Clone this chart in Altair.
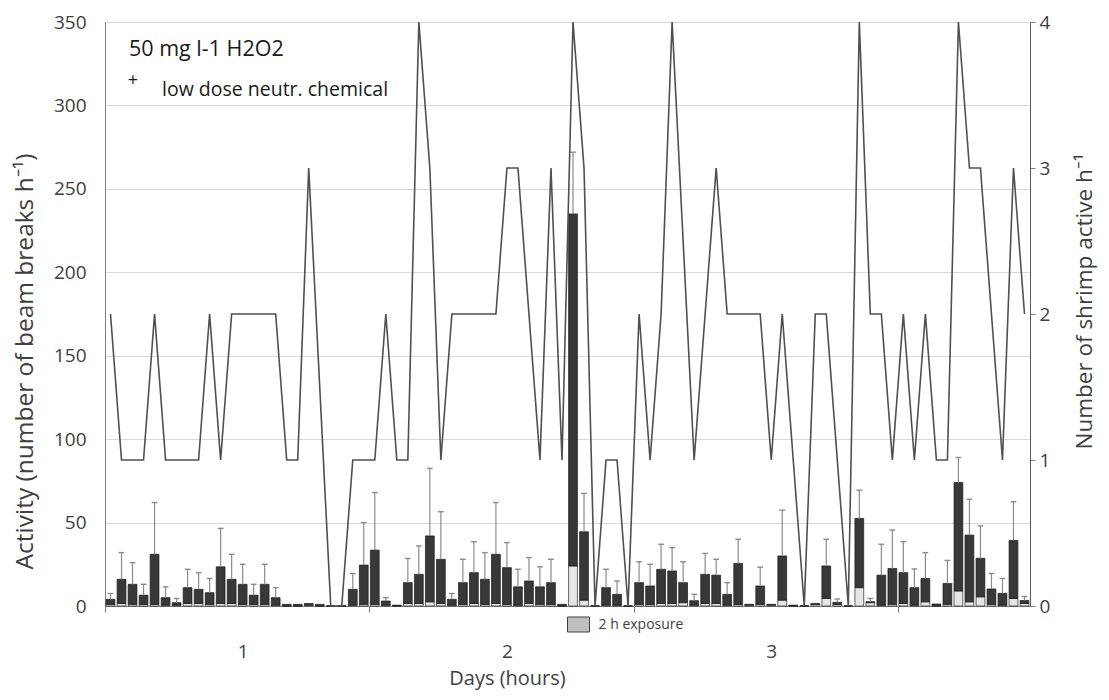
import altair as alt
import pandas as pd

# ---- data ----
hours = list(range(84))

activity = [4, 16, 13, 6.5, 31, 5, 2, 11, 10, 8,
            23.5, 16, 13, 6.5, 13, 5, 1, 1, 1.5, 1,
            0, 0, 10, 24.5, 33.5, 3, 0.5, 14, 19, 42,
            28, 4, 14, 20, 16, 31, 23, 11.5, 15, 11.5,
            14, 1, 235, 44.5, 0, 11, 7, 0, 14, 12,
            22, 21, 14, 3.2, 19, 18.5, 7, 25.5, 1, 12,
            1, 30, 0.5, 0, 1.5, 24, 2.2, 0, 52.5, 2.6,
            18.5, 22.5, 20, 11, 16.5, 1.2, 13.5, 74, 42.5, 28.6,
            10.2, 7.6, 39.3, 3.3]

light_part = [1, 1.5, 1, 1, 1, 0.5, 0.5, 1.5, 1.5, 1,
              1.5, 1.5, 1, 1, 1, 0.5, 0, 0, 0.5, 0,
              0, 0, 0.5, 1, 1, 0.5, 0, 1.5, 1.5, 2.5,
              1.5, 0.5, 1, 1.5, 1, 1.5, 1, 0.5, 1.5, 1,
              1, 0, 24, 3.5, 0, 0.5, 0.5, 0, 1, 1,
              1.5, 1.5, 2, 0.5, 1.5, 1.5, 0.5, 1, 0.5, 1,
              0.5, 3.5, 0, 0, 1, 4.5, 1, 0, 11, 2,
              0.5, 1, 1.5, 0.5, 2.5, 0, 1, 9, 2.5, 5.5,
              1, 0.5, 4.5, 1.5]

error_top = [7.5, 32, 26, 13, 62, 11.5, 4.5, 22, 20, 16.5,
             46.5, 31, 25, 13, 25, 11, None, None, None, None,
             None, None, 19.5, 50, 68, 5, None, 28.5, 36, 82.5,
             56.5, 7.5, 28, 38.5, 32, 62, 38, 22, 29, 23.5,
             28, None, 272, 67.5, None, 22, 15, None, 26.5, 25,
             37, 35, 26.5, 7, 31.5, 28, 14, 40, None, 23.3,
             None, 57.4, None, None, None, 40, 4.2, None, 69.4, 4.5,
             37, 45.5, 38.6, 22.2, 32, None, 27.3, 89, 64, 48,
             19.5, 16.5, 62.5, 5.7]

shrimp_active = [2, 1, 1, 1, 2, 1, 1, 1, 1, 2,
                 1, 2, 2, 2, 2, 2, 1, 1, 3, None,
                 0, 0, 1, 1, 1, 2, 1, 1, 4, 3,
                 1, 2, 2, 2, 2, 2, 3, 3, 2, 1,
                 3, 1, 4, 3, 0, 1, 1, 0, 2, 1,
                 2, 4, None, 1, 2, 3, 2, 2, 2, 2,
                 1, 2, 1, 0, 2, 2, 1, 0, 4, 2,
                 2, 1, 2, 1, 2, 1, 1, 4, 3, 3,
                 2, 1, 3, 2]

day_ticks = [0, 24, 48, 72]
day_label_pos = [12.5, 36.5, 60.5]
exposure_start = [42]
exposure_end = [44]
exposure_label = ["2 h exposure"]

df = pd.DataFrame({
    "hour": hours,
    "total": activity,
    "light": light_part,
    "err": error_top,
    "shrimp": shrimp_active,
})

W, H = 925, 584
FONT = "Open Sans"
TXT = "#404040"

x_scale = alt.Scale(domain=[0, 84], nice=False, zero=False)
y_left = alt.Scale(domain=[0, 350], nice=False)
y_right = alt.Scale(domain=[0, 4], nice=False)

base = alt.Chart(df).transform_calculate(
    x0="datum.hour + 0.1", x1="datum.hour + 0.9", xm="datum.hour + 0.5",
    c0="datum.hour + 0.24", c1="datum.hour + 0.76",
)

x_axis = alt.Axis(
    values=day_ticks + day_label_pos,
    labelExpr="datum.value % 24 === 12.5 ? format((datum.value + 11.5) / 24, 'd') : ''",
    tickOpacity={"condition": {"test": "datum.value % 24 === 0", "value": 1}, "value": 0},
    tickSize=6, tickColor="#7f7f7f", domainColor="#7f7f7f",
    labelFontSize=19, labelColor=TXT, labelPadding=30, labelFont=FONT,
    title="Days (hours)", titleFontSize=20, titleFontWeight="normal",
    titleColor=TXT, titlePadding=7, titleFont=FONT, titleX=402, grid=False,
)


def X(field):
    return alt.X(field, type="quantitative", scale=x_scale, axis=x_axis)


bars_light = base.mark_rect(fill="#e6e6e6", stroke="#2a2a2a", strokeWidth=0.7).encode(
    x=X("x0"),
    x2="x1:Q",
    y=alt.Y("light:Q", scale=y_left, axis=alt.Axis(
        values=[0, 50, 100, 150, 200, 250, 300, 350], ticks=False,
        labelFontSize=19, labelColor=TXT, labelPadding=19, labelFont=FONT,
        domainColor="#7f7f7f", gridColor="#d9d9d9",
        title="Activity  (number of beam breaks h⁻¹)", titleFontSize=24.5,
        titleFontWeight="normal", titleColor=TXT, titlePadding=16, titleFont=FONT,
        titleY=339)),
    y2=alt.datum(0),
)

bars_dark = base.mark_rect(fill="#383838", stroke="#1a1a1a", strokeWidth=0.7).encode(
    x=X("x0"),
    x2="x1:Q",
    y=alt.Y("light:Q", scale=y_left),
    y2="total:Q",
)

err_rule = base.transform_filter("isValid(datum.err)").mark_rule(
    color="#8c8c8c", strokeWidth=1.2).encode(
    x=X("xm"),
    y=alt.Y("total:Q", scale=y_left),
    y2="err:Q",
)

err_cap = base.transform_filter("isValid(datum.err)").mark_rule(
    color="#8c8c8c", strokeWidth=1.4).encode(
    x=X("c0"),
    x2="c1:Q",
    y=alt.Y("err:Q", scale=y_left),
)

exp_df = pd.DataFrame({"s": exposure_start, "e": exposure_end, "label": exposure_label})
exp_box = alt.Chart(exp_df).mark_rect(fill="#bfbfbf", stroke="#404040", strokeWidth=1).encode(
    x=X("s"),
    x2="e:Q",
    y=alt.value(H + 11),
    y2=alt.value(H + 26),
)
exp_text = alt.Chart(exp_df).mark_text(
    align="left", baseline="middle", dx=9, fontSize=14, font=FONT, color=TXT).encode(
    x=X("e"),
    y=alt.value(H + 18.5),
    text="label:N",
)

ann_df = pd.DataFrame({
    "t": ["50 mg l-1 H2O2", "+", "low dose neutr. chemical"],
})
ann1 = alt.Chart(ann_df).transform_filter("datum.t === '50 mg l-1 H2O2'").mark_text(
    align="left", baseline="middle", fontSize=21.5, font=FONT, color="#1a1a1a").encode(
    x=alt.value(24), y=alt.value(28), text="t:N")
ann2 = alt.Chart(ann_df).transform_filter("datum.t === '+'").mark_text(
    align="center", baseline="middle", fontSize=18, font=FONT, color="#1a1a1a").encode(
    x=alt.value(28), y=alt.value(59), text="t:N")
ann3 = alt.Chart(ann_df).transform_filter("datum.t === 'low dose neutr. chemical'").mark_text(
    align="left", baseline="middle", fontSize=19.5, font=FONT, color="#1a1a1a").encode(
    x=alt.value(57), y=alt.value(68), text="t:N")

left = alt.layer(bars_light, bars_dark, err_rule, err_cap, exp_box, exp_text, ann1, ann2, ann3)

line = base.transform_filter("isValid(datum.shrimp)").mark_line(
    color="#505050", strokeWidth=1.6).encode(
    x=X("xm"),
    y=alt.Y("shrimp:Q", scale=y_right, axis=alt.Axis(
        orient="right", values=[0, 1, 2, 3, 4], grid=False, tickSize=5,
        tickColor="#7f7f7f", domainColor="#595959",
        labelFontSize=19, labelColor=TXT, labelPadding=4, labelFont=FONT,
        title="Number of shrimp active h⁻¹", titleFontSize=22.5,
        titleFontWeight="normal", titleColor=TXT, titlePadding=24, titleFont=FONT,
        titleAngle=270, titleBaseline="top", titleY=279)),
)

chart = alt.layer(left, line).resolve_scale(y="independent").properties(
    width=W, height=H,
    padding={"left": 97, "top": 14, "right": 71, "bottom": 86},
    autosize=alt.AutoSizeParams(type="none"),
).configure_view(stroke=None).configure(font=FONT)

chart.save("out.html", embed_options={"renderer": "svg", "actions": False})
